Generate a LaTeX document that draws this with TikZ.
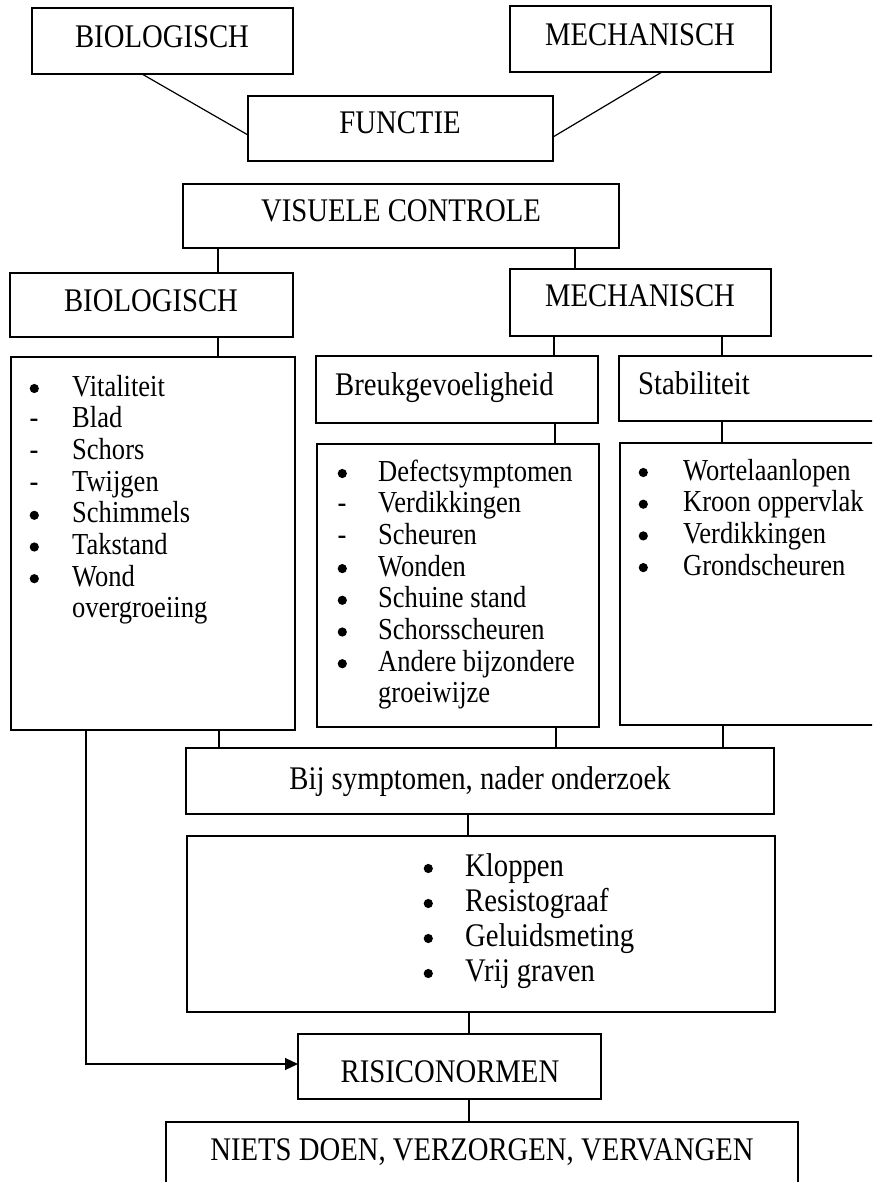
\documentclass[tikz,border=0pt]{standalone}
\usepackage{fontspec}
\setmainfont{Liberation Serif}[FakeStretch=0.87]
\usetikzlibrary{arrows.meta}
\tikzset{
  box/.style={draw, line width=1.2pt, anchor=north west, inner sep=0pt, outer sep=0pt},
  ttl/.style={font=\fontsize{33}{36}\selectfont, inner sep=0pt, anchor=base},
  ttlw/.style={font=\fontsize{33}{36}\selectfont, inner sep=0pt, anchor=base west},
  itm/.style={font=\fontsize{30.5}{32}\selectfont, inner sep=0pt, anchor=base west},
  conn/.style={line width=1.2pt},
}
\newcommand{\mybul}{\tikz[baseline=0pt]\fill (0pt,7.5pt) circle (4.6pt);}
\newcommand{\mydsh}{-}
\newcommand{\mynob}{}
\begin{document}
\begin{tikzpicture}[x=1pt,y=-1pt]
\useasboundingbox (0,0) rectangle (872,1182);
\clip (0,0) rectangle (872,1182);
\fill[white] (0,0) rectangle (872,1182);

% boxes
\node[box, minimum width=261pt, minimum height=66pt] (bio1) at (32,8) {};
\node[box, minimum width=261pt, minimum height=66pt] (mech1) at (510,6) {};
\node[box, minimum width=305pt, minimum height=65pt] (func) at (248,96) {};
\node[box, minimum width=436pt, minimum height=64pt] (vc) at (183,184) {};
\node[box, minimum width=283pt, minimum height=64pt] (bio2) at (10,273) {};
\node[box, minimum width=261pt, minimum height=67pt] (mech2) at (510,269) {};
\node[box, minimum width=282pt, minimum height=67pt] (breuk) at (316,356) {};
\node[box, minimum width=280pt, minimum height=65pt] (stab) at (619,356) {};
\node[box, minimum width=284pt, minimum height=373pt] (biolist) at (11,357) {};
\node[box, minimum width=282pt, minimum height=283pt] (breuklist) at (317,444) {};
\node[box, minimum width=280pt, minimum height=282pt] (stablist) at (620,443) {};
\node[box, minimum width=588pt, minimum height=66pt] (bij) at (186,748) {};
\node[box, minimum width=588pt, minimum height=176pt] (ond) at (187,836) {};
\node[box, minimum width=303pt, minimum height=65pt] (ris) at (298,1034) {};
\node[box, minimum width=632pt, minimum height=90pt] (niets) at (166,1122) {};

% titles
\node[ttl] (bio1t) at (162,48) {BIOLOGISCH};
\node[ttl] (mech1t) at (640,46) {MECHANISCH};
\node[ttl] (funct) at (400,134) {FUNCTIE};
\node[ttl] (vct) at (401,222) {VISUELE CONTROLE};
\node[ttl] (bio2t) at (151,311) {BIOLOGISCH};
\node[ttl] (mech2t) at (640,306) {MECHANISCH};
\node[ttlw] (breukt) at (335,395) {Breukgevoeligheid};
\node[ttlw] (stabt) at (638,394) {Stabiliteit};
\node[ttl] (bijt) at (480,789) {Bij symptomen, nader onderzoek};
\node[ttl] (rist) at (450,1082) {RISICONORMEN};
\node[ttl] (nietst) at (482,1160) {NIETS DOEN, VERZORGEN, VERVANGEN};

% lists
\foreach \m/\t [count=\i from 0] in {\mybul/Vitaliteit, \mydsh/Blad, \mydsh/Schors, \mydsh/Twijgen, \mybul/Schimmels, \mybul/Takstand, \mybul/Wond, \mynob/overgroeiing}
  \node[itm] (bl\i) at (29.5,{396+31.7*\i}) {\makebox[42.5pt][l]{\m}\t};
\foreach \m/\t [count=\i from 0] in {\mybul/Defectsymptomen, \mydsh/Verdikkingen, \mydsh/Scheuren, \mybul/Wonden, \mybul/Schuine stand, \mybul/Schorsscheuren, \mybul/Andere bijzondere, \mynob/groeiwijze}
  \node[itm] (brl\i) at (337.5,{481+31.7*\i}) {\makebox[40.5pt][l]{\m}\t};
\foreach \m/\t [count=\i from 0] in {\mybul/Wortelaanlopen, \mybul/Kroon oppervlak, \mybul/Verdikkingen, \mybul/Grondscheuren}
  \node[itm] (sl\i) at (638.5,{480+31.7*\i}) {\makebox[44.5pt][l]{\m}\t};
\foreach \m/\t [count=\i from 0] in {\mybul/Kloppen, \mybul/Resistograaf, \mybul/Geluidsmeting, \mybul/Vrij graven}
  \node[ttlw] (ol\i) at (423.5,{876+35*\i}) {\makebox[41.5pt][l]{\m}\t};

% connectors
\draw[conn] (bio1.south -| 142,0) -- (func.west |- 0,135);
\draw[conn] (mech1.south -| 662,0) -- (func.east |- 0,137);
\draw[conn] (vc.south -| 218,0) -- (bio2.north -| 218,0);
\draw[conn] (vc.south -| 575,0) -- (mech2.north -| 575,0);
\draw[conn] (bio2.south -| 218,0) -- (biolist.north -| 218,0);
\draw[conn] (mech2.south -| 554,0) -- (breuk.north -| 554,0);
\draw[conn] (mech2.south -| 722,0) -- (stab.north -| 722,0);
\draw[conn] (breuk.south -| 555,0) -- (breuklist.north -| 555,0);
\draw[conn] (stab.south -| 722,0) -- (stablist.north -| 722,0);
\draw[conn] (biolist.south -| 219,0) -- (bij.north -| 219,0);
\draw[conn] (breuklist.south -| 556,0) -- (bij.north -| 556,0);
\draw[conn] (stablist.south -| 723,0) -- (bij.north -| 723,0);
\draw[conn] (bij.south -| 468,0) -- (ond.north -| 468,0);
\draw[conn] (ond.south -| 469,0) -- (ris.north -| 469,0);
\draw[conn] (ris.south -| 469,0) -- (niets.north -| 469,0);
\draw[conn, -{Triangle[length=13pt,width=12pt]}] (biolist.south -| 86,0) |- (ris.west |- 0,1064);
\end{tikzpicture}
\end{document}
